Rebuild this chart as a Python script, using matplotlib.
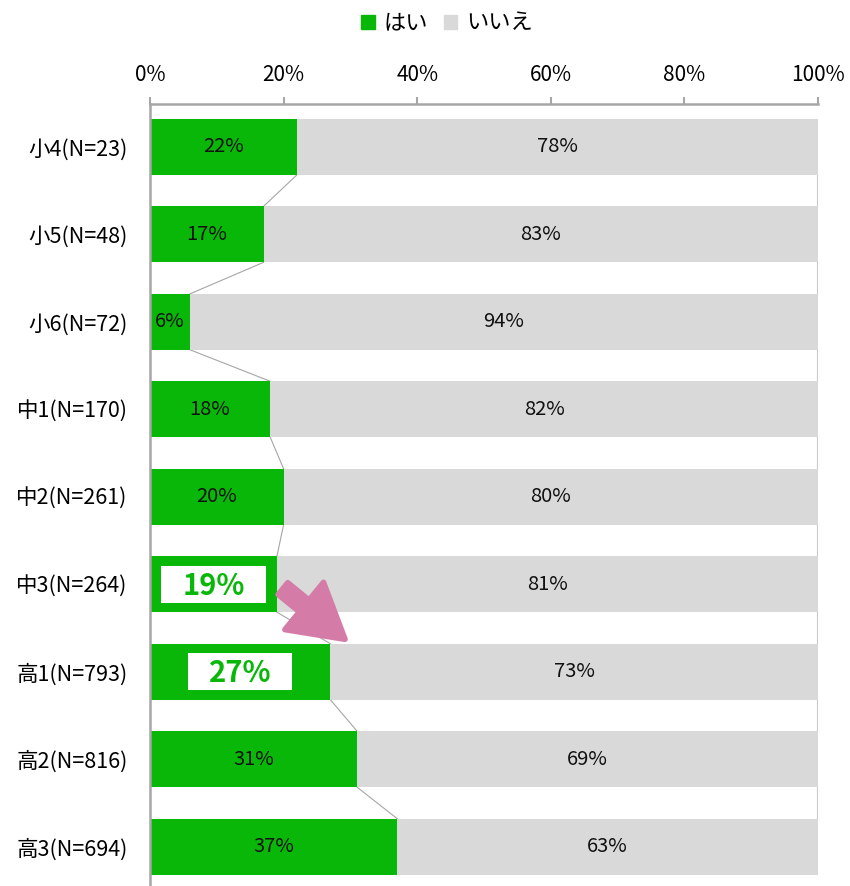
import matplotlib.pyplot as plt
from matplotlib.patches import FancyArrowPatch, Patch

plt.rcParams['font.family'] = ['Noto Sans CJK JP', 'DejaVu Sans']

# grades and share of "yes" answers (%)
grades = ['小4(N=23)', '小5(N=48)', '小6(N=72)', '中1(N=170)', '中2(N=261)',
          '中3(N=264)', '高1(N=793)', '高2(N=816)', '高3(N=694)']
yes_pct = [22, 17, 6, 18, 20, 19, 27, 31, 37]
no_pct = [78, 83, 94, 82, 80, 81, 73, 69, 63]
highlight = [5, 6]  # 中3 and 高1 get boxed labels

GREEN = '#09B709'
GRAY = '#D9D9D9'
LINE = '#A6A6A6'
PINK = '#D47CA7'
BAR_H = 0.64

fig = plt.figure(figsize=(8.5, 8.86), dpi=100)
ax = fig.add_axes([150 / 850, 0, 668 / 850, 1 - 104 / 886])

ypos = list(range(len(grades)))
ax.barh(ypos, yes_pct, height=BAR_H, color=GREEN, zorder=2)
ax.barh(ypos, no_pct, left=yes_pct, height=BAR_H, color=GRAY, zorder=2)

# series lines between consecutive bars
for i in range(len(grades) - 1):
    ax.plot([yes_pct[i], yes_pct[i + 1]], [i + BAR_H / 2, i + 1 - BAR_H / 2],
            color=LINE, lw=0.8, zorder=1)
    total_i = yes_pct[i] + no_pct[i]
    total_n = yes_pct[i + 1] + no_pct[i + 1]
    ax.plot([total_i, total_n], [i + BAR_H / 2, i + 1 - BAR_H / 2],
            color='#C8C8C8', lw=1.5, zorder=1)

for i in ypos:
    if i in highlight:
        ax.add_patch(plt.Rectangle((yes_pct[i] / 2 - 7.8, i - 0.21), 15.6, 0.42,
                                   fc='white', ec='none', zorder=3))
        ax.text(yes_pct[i] / 2, i + 0.02, f'{yes_pct[i]}%', ha='center', va='center',
                fontsize=21, fontweight='bold', color=GREEN, zorder=4)
    else:
        ax.text(yes_pct[i] / 2, i, f'{yes_pct[i]}%', ha='center', va='center',
                fontsize=14.5, color='#111111', zorder=4)
    ax.text(yes_pct[i] + no_pct[i] / 2, i, f'{no_pct[i]}%', ha='center',
            va='center', fontsize=14.5, color='#111111', zorder=4)

# arrow from 中3 towards 高1
arrow = FancyArrowPatch((19.9, 5.05), (29.2, 5.63), shrinkA=0, shrinkB=0,
                        arrowstyle='simple,head_width=4.4,head_length=3.8,tail_width=1.1',
                        mutation_scale=10, fc=PINK, ec=PINK, lw=4, zorder=5,
                        joinstyle='round', capstyle='round')
ax.add_patch(arrow)

ax.set_xlim(0, 100)
ax.set_ylim(8.45, -0.49)
ax.set_yticks(ypos)
ax.set_yticklabels(grades, fontsize=15.5)
ax.tick_params(axis='y', length=0, pad=16)
ax.xaxis.tick_top()
ax.set_xticks([0, 20, 40, 60, 80, 100])
ax.set_xticklabels([f'{v}%' for v in range(0, 101, 20)], fontsize=15)
ax.tick_params(axis='x', length=5, width=1.5, color=LINE, pad=8)

for side in ['right', 'bottom']:
    ax.spines[side].set_visible(False)
ax.spines['top'].set_color(LINE)
ax.spines['top'].set_linewidth(1.8)
ax.spines['left'].set_color(LINE)
ax.spines['left'].set_linewidth(1.8)

handles = [Patch(color=GREEN, label='はい'), Patch(color=GRAY, label='いいえ')]
fig.legend(handles=handles, loc='center', bbox_to_anchor=(0.526, 0.974),
           ncol=2, frameon=False, fontsize=16, handlelength=0.6,
           handleheight=0.6, handletextpad=0.4, columnspacing=0.7)

fig.savefig('out.png', dpi=100)
